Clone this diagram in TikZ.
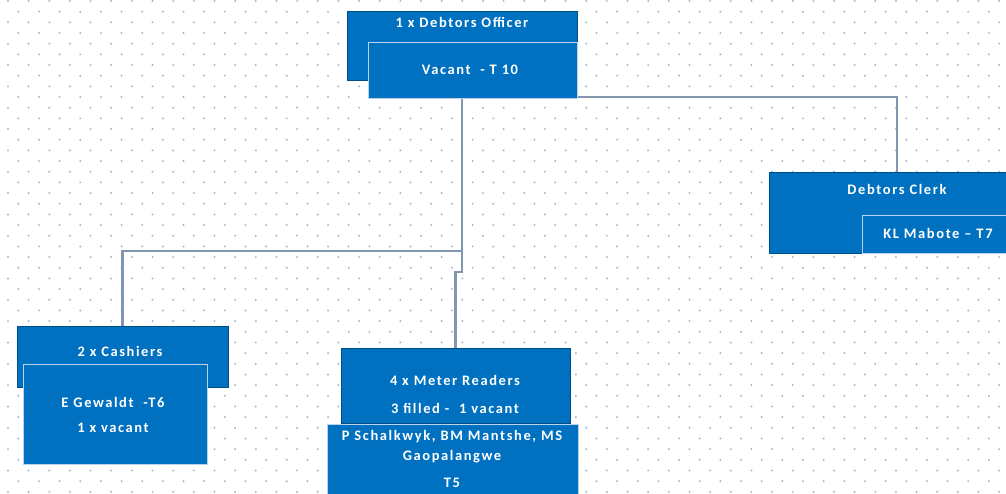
\documentclass[tikz,border=0pt]{standalone}
\usepackage{fontspec}
\setmainfont{Carlito}
\newfontfamily\lblfont[LetterSpace=11]{Carlito}
\definecolor{boxblue}{HTML}{0070C0}
\definecolor{dotblue}{HTML}{9DB9D9}
\definecolor{linegrey}{HTML}{8396AF}
\definecolor{rimwhite}{HTML}{B8D3EE}
\tikzset{
  outerbox/.style={rectangle, fill=boxblue, draw=boxblue!70!black, line width=0.6pt, inner sep=0pt},
  innerbox/.style={rectangle, fill=boxblue, draw=rimwhite, line width=0.9pt, inner sep=0pt},
  lbl/.style={text=white, font=\lblfont\bfseries\fontsize{14.5}{17}\selectfont, inner sep=0pt, align=center},
  conn/.style={draw=linegrey, line width=2.6pt}
}
\begin{document}
\begin{tikzpicture}[x=1pt,y=-1pt]
\useasboundingbox (0,0) rectangle (1006,493);
\clip (0,0) rectangle (1006,493);
\fill[white] (0,0) rectangle (1006,493);
% dotted background
\foreach \r in {0,...,46}{
  \pgfmathsetmacro{\yy}{1+10.67*\r}
  \pgfmathsetmacro{\xo}{mod(\r,2)==0 ? 8 : 18.3}
  \foreach \c in {0,...,49}{
    \fill[dotblue] (\xo+20.65*\c,\yy) circle (1.1pt);
  }
}
% boxes (positions only, drawn after connectors)
\path
  node[outerbox, minimum width=230pt, minimum height=69pt] (off) at (462,45.5) {}
  node[outerbox, minimum width=256pt, minimum height=81pt] (clerk) at (897,212.5) {}
  node[outerbox, minimum width=211pt, minimum height=61pt] (cash) at (122.5,356.5) {}
  node[outerbox, minimum width=229pt, minimum height=75pt] (mr) at (455.5,385.5) {};
% connectors
\draw[conn] (off.south) -- (off.south |- 0,272) -| (mr.north);
\draw[conn] (off.south |- 0,251) -| (cash.north);
\draw[conn] (off.south |- 0,97) -| (clerk.north);
% redraw boxes on top
\path
  node[outerbox, minimum width=230pt, minimum height=69pt] at (off) {}
  node[outerbox, minimum width=256pt, minimum height=81pt] at (clerk) {}
  node[outerbox, minimum width=211pt, minimum height=61pt] at (cash) {}
  node[outerbox, minimum width=229pt, minimum height=75pt] at (mr) {};
% inner boxes
\node[innerbox, minimum width=209pt, minimum height=56pt] (vac) at (472.5,70) {};
\node[innerbox, minimum width=160pt, minimum height=38pt] (mab) at (942,234) {};
\node[innerbox, minimum width=184pt, minimum height=100pt] (gew) at (115,414) {};
\node[innerbox, minimum width=251pt, minimum height=80pt] (names) at (452.5,464) {};
% texts
\node[lbl] (toff) at (462,22) {1 x Debtors Officer};
\node[lbl] (tvac) at (470,70) {Vacant \ - T 10};
\node[lbl] (tclerk) at (897,189) {Debtors Clerk};
\node[lbl] (tmab) at (938,233) {KL Mabote \textendash{} T7};
\node[lbl] (tcash) at (120,351) {2 x Cashiers};
\node[lbl] (tgew) at (113,402) {E Gewaldt \ -T6};
\node[lbl] (tvac2) at (113,428) {1 x vacant};
\node[lbl] (tmr1) at (455,380) {4 x Meter Readers};
\node[lbl] (tmr2) at (455,408) {3 filled - \ 1 vacant};
\node[lbl] (tmr3) at (452,437) {P Schalkwyk, BM Mantshe, MS};
\node[lbl] (tmr4) at (452,457) {Gaopalangwe};
\node[lbl] (tmr5) at (452,483) {T5};
\end{tikzpicture}
\end{document}
